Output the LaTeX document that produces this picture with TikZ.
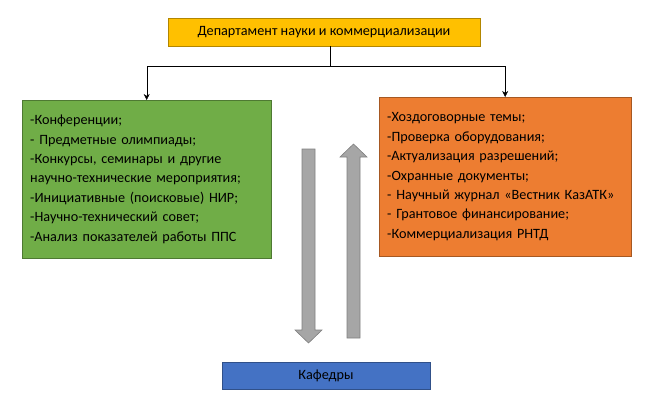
\documentclass[tikz,border=0pt]{standalone}
\usepackage{fontspec}
\setmainfont{Carlito}
\usetikzlibrary{arrows.meta}
\definecolor{dyellow}{HTML}{FFC000}
\definecolor{dgreen}{HTML}{70AD47}
\definecolor{dorange}{HTML}{ED7D31}
\definecolor{dblue}{HTML}{4472C4}
\begin{document}
\begin{tikzpicture}[
   x=1pt, y=-1pt,
   box/.style={draw, inner sep=0pt, font=\fontsize{14.2}{19.4}\selectfont},
   list/.style={box, text width=#1, align=left, anchor=north west},
   arrow/.style={-{Stealth[length=6pt,width=6pt]}, thin},
   bigarrow/.style={fill=black!35, draw=black!50, line width=0.6pt}
]
\useasboundingbox (0,0) rectangle (653,407);
% Top
\node[box, fill=dyellow, draw=dyellow!70!black, minimum width=312pt, minimum height=28pt]
   (dep) at (324,32) {Департамент науки и коммерциализации};
\coordinate (split) at (330,66);
% Lists
\node[list=233pt, fill=dgreen, draw=dgreen!70!black, minimum height=158pt, inner xsep=8pt]
   (left) at (22,100) {-Конференции;\\- Предметные олимпиады;\\-Конкурсы, семинары и другие\\научно-технические мероприятия;\\-Инициативные (поисковые) НИР;\\-Научно-технический совет;\\-Анализ показателей работы ППС};
\node[list=236pt, fill=dorange, draw=dorange!70!black, minimum height=159pt, inner xsep=8pt]
   (right) at (379,97) {-Хоздоговорные темы;\\-Проверка оборудования;\\-Актуализация разрешений;\\-Охранные документы;\\- Научный журнал «Вестник КазАТК»\\- Грантовое финансирование;\\-Коммерциализация РНТД};
\draw (dep.south -| split) -- (split);
\draw[arrow] (split) -| (left.north);
\draw[arrow] (split) -| (right.north);
% Bottom
\node[box, fill=dblue, draw=dblue!70!black, minimum width=208pt, minimum height=27pt]
   (kaf) at (326,375.5) {Кафедры};
% Block arrows
\draw[bigarrow] (302,149) -- (315,149) -- (315,330) -- (322,330) -- (308.5,343)
   -- (295,330) -- (302,330) -- cycle;
\draw[bigarrow] (347,338) -- (360,338) -- (360,157) -- (367,157) -- (353.5,144)
   -- (340,157) -- (347,157) -- cycle;
\end{tikzpicture}
\end{document}
